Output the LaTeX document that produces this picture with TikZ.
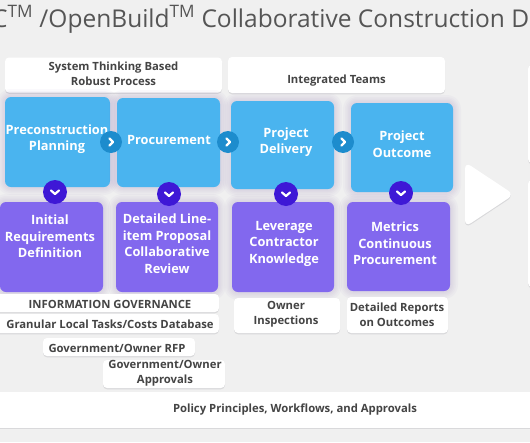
\documentclass[tikz,border=0pt]{standalone}
\usepackage{fontspec}
\setmainfont{Open Sans}
\definecolor{bgC}{HTML}{F0F0F0}
\definecolor{blueC}{HTML}{4AB4EF}
\definecolor{purpC}{HTML}{8268EE}
\definecolor{chevB}{HTML}{1D8CCD}
\definecolor{chevP}{HTML}{3E18D6}
\definecolor{txtC}{HTML}{444444}
\definecolor{titleC}{HTML}{555555}
\definecolor{wshad}{HTML}{D9D9DB}
\definecolor{haze}{HTML}{7050A8}
\tikzset{
  hz/.style={preaction={draw=haze, draw opacity=0.03, line width=#1, line join=round}},
  bigbox/.style={rounded corners=6pt, draw=none, inner sep=0pt,
    hz=16pt, hz=12pt, hz=9pt, hz=6pt, hz=3pt},
  bluebox/.style={bigbox, fill=blueC},
  purpbox/.style={bigbox, fill=purpC},
  boxtxt/.style={text=white, font=\fontsize{12.8}{16.5}\selectfont\bfseries, align=center, inner sep=0pt},
  wbox/.style={fill=white, rounded corners=4pt, draw=none, inner sep=0pt,
    preaction={fill=wshad, transform canvas={yshift=-1.3pt}}},
  wtxt/.style={text=txtC, font=\fontsize{11.3}{15}\selectfont\bfseries, align=center, inner sep=0pt},
  rcirc/.style={circle, fill=chevB, minimum size=22pt, inner sep=0pt},
  dcirc/.style={circle, fill=chevP, minimum size=24pt, inner sep=0pt},
  chev/.style={white, line width=2.2pt, line cap=round, line join=round},
}
\begin{document}
\begin{tikzpicture}[x=1pt, y=-1pt]
\useasboundingbox (0,0) rectangle (530,442);
\clip (0,0) rectangle (530,442);
\fill[bgC] (0,0) rectangle (530,442);
% title
\node[anchor=base west, inner sep=0pt, text=titleC, font=\fontsize{24.5}{30}\selectfont] (title) at (-8,27)
  {C\textsuperscript{TM} /OpenBuild\textsuperscript{TM} Collaborative Construction D};
% right faint boxes
\node[wbox, minimum width=30pt, minimum height=98pt] (r1) at (543,114) {};
\node[wbox, minimum width=30pt, minimum height=107pt] (r2) at (543,233.5) {};
% top white boxes
\node[wbox, minimum width=217pt, minimum height=35pt] (t1) at (113.5,75) {};
\node[wtxt] (t1t) at (113.5,74) {System Thinking Based\\Robust Process};
\node[wbox, minimum width=217pt, minimum height=36pt] (t2) at (336.5,75) {};
\node[wtxt] (t2t) at (336.5,80.5) {Integrated Teams};
% blue boxes
\node[bluebox, minimum width=105pt, minimum height=90pt] (b1) at (57.5,142) {};
\node[bluebox, minimum width=103pt, minimum height=89pt] (b2) at (168.5,142.5) {};
\node[bluebox, minimum width=103pt, minimum height=88pt] (b3) at (282.5,145) {};
\node[bluebox, minimum width=102pt, minimum height=89pt] (b4) at (402,147.5) {};
\node[boxtxt] (b1t) at (57,139) {Preconstruction\\Planning};
\node[boxtxt] (b2t) at (169,140) {Procurement};
\node[boxtxt] (b3t) at (286,142) {Project\\Delivery};
\node[boxtxt] (b4t) at (402,144) {Project\\Outcome};
% purple boxes
\node[purpbox, minimum width=103pt, minimum height=90pt] (p1) at (51.5,247) {};
\node[purpbox, minimum width=102pt, minimum height=90pt] (p2) at (167,247) {};
\node[purpbox, minimum width=102pt, minimum height=90pt] (p3) at (283,247) {};
\node[purpbox, minimum width=103pt, minimum height=89pt] (p4) at (398.5,246.5) {};
\node[boxtxt] (p1t) at (50,236.5) {Initial\\Requirements\\Definition};
\node[boxtxt] (p2t) at (167,243.5) {Detailed Line-\\item Proposal\\Collaborative\\Review};
\node[boxtxt] (p3t) at (284,243.5) {Leverage\\Contractor\\Knowledge};
\node[boxtxt] (p4t) at (395,243.5) {Metrics\\Continuous\\Procurement};
% right chevron circles
\foreach \n/\x in {c1/111, c2/228, c3/343} {
  \node[rcirc] (\n) at (\x,142) {};
  \draw[chev] ([shift={(-1.5,-3.5)}]\n.center) -- ([shift={(2,0)}]\n.center) -- ([shift={(-1.5,3.5)}]\n.center);
}
% down chevron circles
\foreach \n/\x/\y in {d1/55/192, d2/169/194, d3/286/194, d4/401/193} {
  \node[dcirc] (\n) at (\x,\y) {};
  \draw[chev] ([shift={(-4,-1.5)}]\n.center) -- ([shift={(0,2)}]\n.center) -- ([shift={(4,-1.5)}]\n.center);
}
% big arrow
\fill[white, rounded corners=7pt, preaction={fill=wshad, transform canvas={yshift=-1.3pt}}]
  (465,162) -- (514,194.5) -- (465,227) -- cycle;
% bottom white boxes
\node[wbox, minimum width=224pt, minimum height=18pt] (g1) at (107,303) {};
\node[wtxt] (g1t) at (110,304.5) {INFORMATION GOVERNANCE};
\node[wbox, minimum width=224pt, minimum height=19pt] (g2) at (107,323.5) {};
\node[wtxt] (g2t) at (110,324) {Granular Local Tasks/Costs Database};
\node[wbox, minimum width=152pt, minimum height=18pt] (g3) at (119,347) {};
\node[wtxt] (g3t) at (117,348) {Government/Owner RFP};
\node[wbox, minimum width=122pt, minimum height=28pt] (g4) at (164,374) {};
\node[wtxt] (g4t) at (165,373.5) {Government/Owner\\Approvals};
\node[wbox, minimum width=106pt, minimum height=35pt] (g5) at (287,315.5) {};
\node[wtxt] (g5t) at (286,314.5) {Owner\\Inspections};
\node[wbox, minimum width=101pt, minimum height=36pt] (g6) at (397.5,315) {};
\node[wtxt] (g6t) at (397,314.5) {Detailed Reports\\on Outcomes};
% policy band
\node[wbox, rounded corners=0pt, minimum width=540pt, minimum height=36pt] (pol) at (265,410) {};
\node[wtxt] (polt) at (295,410) {Policy Principles, Workflows, and Approvals};
\end{tikzpicture}
\end{document}
